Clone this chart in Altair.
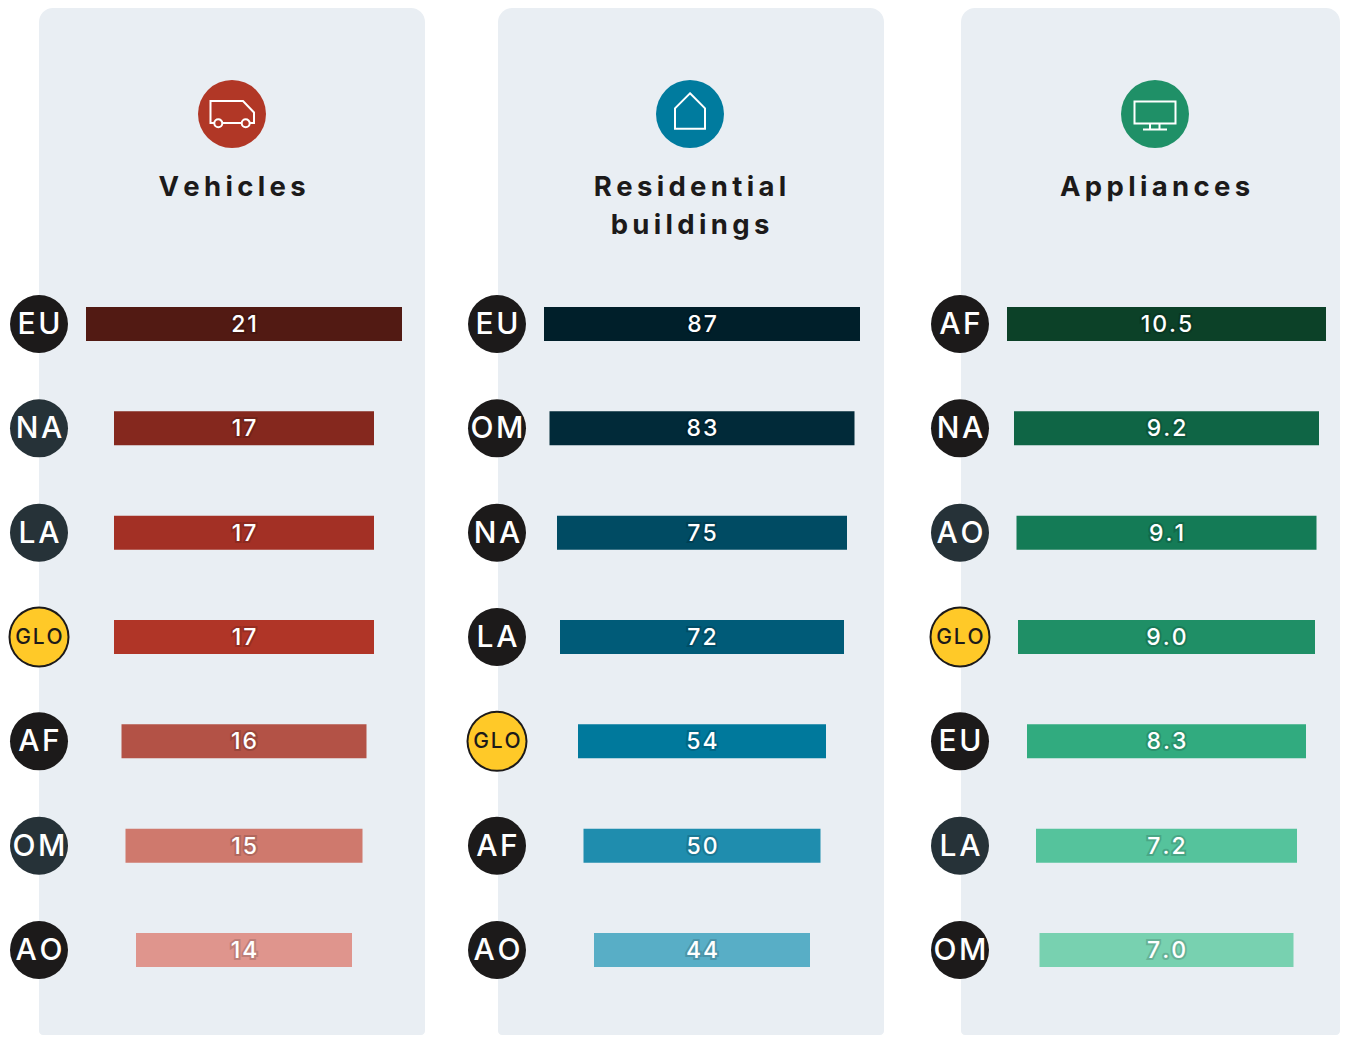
import altair as alt
import pandas as pd

FONT = "Inter"
PANEL_FILL = "#E9EEF3"
INK = "#1C1A1A"
SLATE = "#263238"
GLO_YELLOW = "#FFC928"

# ---- data -------------------------------------------------------------
veh_regions = ["EU", "NA", "LA", "GLO", "AF", "OM", "AO"]
veh_values = [21, 17, 17, 17, 16, 15, 14]
veh_tones = ["dark", "slate", "slate", "glo", "dark", "slate", "dark"]
veh_colors = ["#521A13", "#85281E", "#A33025", "#B03527", "#B35246", "#CF796D", "#DF958D"]

res_regions = ["EU", "OM", "NA", "LA", "GLO", "AF", "AO"]
res_values = [87, 83, 75, 72, 54, 50, 44]
res_tones = ["dark", "dark", "dark", "dark", "glo", "dark", "dark"]
res_colors = ["#001F2A", "#012A39", "#004B63", "#005B78", "#00799C", "#1F8DAE", "#58AEC6"]

app_regions = ["AF", "NA", "AO", "GLO", "EU", "LA", "OM"]
app_values = [10.5, 9.2, 9.1, 9.0, 8.3, 7.2, 7.0]
app_tones = ["dark", "dark", "slate", "glo", "dark", "slate", "dark"]
app_colors = ["#0C4128", "#0F6545", "#147B56", "#1F8F66", "#31AB7F", "#55C39C", "#78D1B0"]

# bar scale: value -> half length on the page (the source's scale is not linear)
veh_scale_values = [14, 15, 16, 17, 21]
veh_scale_half = [108, 118.5, 122.5, 130, 158]
res_scale_values = [44, 50, 54, 72, 75, 83, 87]
res_scale_half = [108, 118.5, 124, 142, 145, 152.5, 158]
app_scale_values = [7.0, 7.2, 8.3, 9.0, 9.1, 9.2, 10.5]
app_scale_half = [127, 130.5, 139.5, 148.5, 150, 152.5, 159.5]

VAN = ("M-17.5,9 L-21.5,9 L-21.5,-13 L11,-13 L22,-1.5 L22,9 L18,9 M9.5,9 L-9.5,9 "
       "M-9.7,9.3 a4,4 0 1 0 -8,0 a4,4 0 1 0 8,0 M17.7,9.3 a4,4 0 1 0 -8,0 a4,4 0 1 0 8,0")
HOUSE = "M0,-20.7 L15,-5.7 L15,14.7 L-15,14.7 L-15,-5.7 Z"
SCREEN = ("M-20.5,-12.5 L20.5,-12.5 L20.5,9.5 L-20.5,9.5 Z M-5,9.5 L-5,15 M4.5,9.5 L4.5,15 "
          "M-12,15.5 L12,15.5")


def spaced(word):
    return "\u200a\u200a".join(word)


def panel(origin, view_w, left, right, centre, bar_c, badge_x, regions, values, tones, colors,
          scale_values, scale_half, title_lines, accent, icon, fmt):
    rows = pd.DataFrame({"region": regions, "value": values, "tone": tones})
    base = alt.Chart(rows).transform_calculate(
        lo="-datum.value",
        label="join(split(format(datum.value, '%s'), ''), '\u200a')" % fmt,
        tag="join(split(datum.region, ''), '\u200a')",
    )

    domain = [-v for v in reversed(scale_values)] + list(scale_values)
    rng = [bar_c - h - origin for h in reversed(scale_half)] + [bar_c + h - origin for h in scale_half]
    x_scale = alt.Scale(domain=domain, range=rng, zero=False, nice=False)
    y_scale = alt.Scale(type="point", domain=regions, range=[316, 942], padding=0)
    y_enc = alt.Y("region:N", scale=y_scale, axis=None)
    badge_px = alt.value(badge_x - origin)

    one = alt.Chart(pd.DataFrame({"k": [0]}))
    bg = one.mark_rect(fill=PANEL_FILL, cornerRadiusTopLeft=14, cornerRadiusTopRight=14,
                       cornerRadiusBottomLeft=4, cornerRadiusBottomRight=4).encode(
        x=alt.value(left - origin), x2=alt.value(right - origin),
        y=alt.value(0), y2=alt.value(1027))
    disc = one.mark_circle(size=68 ** 2, color=accent, opacity=1).encode(
        x=alt.value(centre - origin), y=alt.value(106))
    glyph = one.mark_point(shape=icon, size=4, stroke="white", strokeWidth=2, opacity=1).encode(
        x=alt.value(centre - origin), y=alt.value(106))
    heads = [
        alt.Chart(pd.DataFrame({"t": [spaced(line)]})).mark_text(
            font=FONT, fontSize=27.5, fontWeight=700, color=INK, align="center", baseline="middle"
        ).encode(text="t:N", x=alt.value(centre - origin), y=alt.value(180 + i * 37.5))
        for i, line in enumerate(title_lines)
    ]

    bars = base.mark_bar(opacity=1).encode(
        x=alt.X("lo:Q", scale=x_scale, axis=None),
        x2=alt.X2("value:Q"),
        y=y_enc,
        color=alt.Color("region:N", scale=alt.Scale(domain=regions, range=colors), legend=None),
        size=alt.value(34),
    )
    num_x = alt.value(bar_c - origin)
    glow = base.mark_text(font=FONT, fontSize=23, fontWeight=500, fill="#000000", stroke="#000000",
                          strokeWidth=4, opacity=0.14, align="center", baseline="middle", dy=1).encode(
        x=num_x, y=y_enc, text="label:N")
    nums = base.mark_text(font=FONT, fontSize=23, fontWeight=500, fill="white",
                          align="center", baseline="middle", dy=1).encode(
        x=num_x, y=y_enc, text="label:N")

    plain = base.transform_filter("datum.tone != 'glo'")
    glo = base.transform_filter("datum.tone == 'glo'")
    tone_fill = alt.Fill("tone:N", scale=alt.Scale(domain=["dark", "slate"], range=[INK, SLATE]), legend=None)
    dots = plain.mark_circle(size=58 ** 2, opacity=1).encode(x=badge_px, y=y_enc, fill=tone_fill)
    ring_glo = glo.mark_circle(size=61 ** 2, fill=INK, opacity=1).encode(x=badge_px, y=y_enc)
    dots_glo = glo.mark_circle(size=57 ** 2, fill=GLO_YELLOW, opacity=1).encode(x=badge_px, y=y_enc)
    tags = plain.mark_text(font=FONT, fontSize=30, fontWeight=500, fill="white",
                           align="center", baseline="middle", dy=1).encode(x=badge_px, y=y_enc, text="tag:N")
    tags_glo = glo.mark_text(font=FONT, fontSize=21, fontWeight=500, fill=INK,
                             align="center", baseline="middle", dy=1).encode(x=badge_px, y=y_enc, text="tag:N")

    return alt.layer(bg, disc, glyph, *heads, bars, glow, nums, dots, ring_glo, dots_glo, tags, tags_glo).properties(
        width=view_w, height=1027)


p1 = panel(8, 459, 39, 425, 232, 244, 39, veh_regions, veh_values, veh_tones, veh_colors,
           veh_scale_values, veh_scale_half, ["Vehicles"], "#B13726", VAN, "d")
p2 = panel(467, 463, 498, 884, 690, 702, 497, res_regions, res_values, res_tones, res_colors,
           res_scale_values, res_scale_half, ["Residential", "buildings"], "#007B9E", HOUSE, "d")
p3 = panel(930, 410, 961, 1340, 1155, 1166.5, 960, app_regions, app_values, app_tones, app_colors,
           app_scale_values, app_scale_half, ["Appliances"], "#1F9067", SCREEN, ".1f")

chart = (
    alt.hconcat(p1, p2, p3, spacing=0, bounds="flush")
    .resolve_scale(color="independent", fill="independent")
    .properties(padding=0)
    .configure_view(stroke=None)
)
chart.save("out.html", embed_options={"renderer": "svg", "actions": False})
